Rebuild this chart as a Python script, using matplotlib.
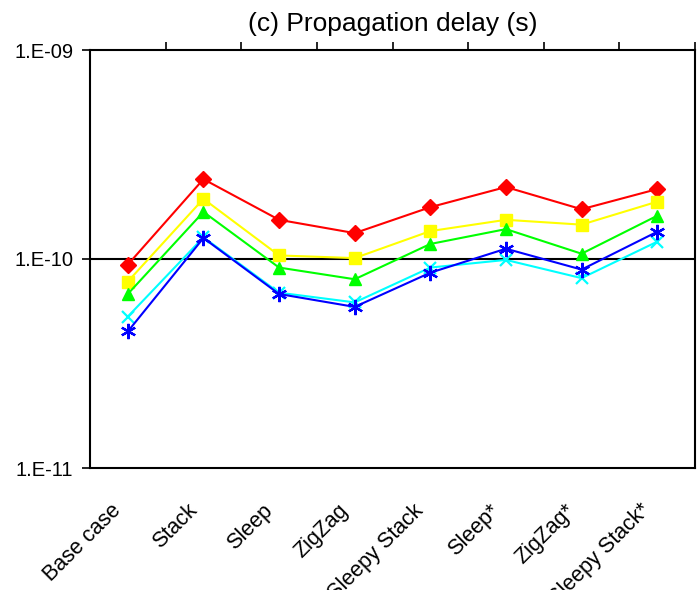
import matplotlib
matplotlib.use('Agg')
import matplotlib.pyplot as plt
import matplotlib.transforms as mtransforms
import numpy as np

plt.rcParams['font.family'] = ['Liberation Sans', 'DejaVu Sans']

# categories and series (propagation delay, seconds)
cases = ['Base case', 'Stack', 'Sleep', 'ZigZag', 'Sleepy Stack',
         'Sleep*', 'ZigZag*', 'Sleepy Stack*']
red_vals = [9.4e-11, 2.41e-10, 1.54e-10, 1.33e-10, 1.77e-10, 2.21e-10, 1.73e-10, 2.16e-10]
yellow_vals = [7.8e-11, 1.94e-10, 1.04e-10, 1.01e-10, 1.36e-10, 1.54e-10, 1.46e-10, 1.88e-10]
green_vals = [6.8e-11, 1.68e-10, 9.1e-11, 8.0e-11, 1.18e-10, 1.39e-10, 1.06e-10, 1.61e-10]
cyan_vals = [5.3e-11, 1.27e-10, 6.9e-11, 6.2e-11, 9.1e-11, 9.9e-11, 8.1e-11, 1.21e-10]
blue_vals = [4.5e-11, 1.26e-10, 6.8e-11, 5.9e-11, 8.6e-11, 1.12e-10, 8.9e-11, 1.35e-10]

y_ticks = [1e-11, 1e-10, 1e-9]
y_labels = ['1.E-11', '1.E-10', '1.E-09']

fig = plt.figure(figsize=(6.97, 5.90), dpi=100)
ax = fig.add_axes([90 / 697, 1 - 468 / 590, 605 / 697, 418 / 590])

x = np.arange(len(cases))
series = [
    (red_vals, '#FF0000', 'D', 8.5, 1.0),
    (yellow_vals, '#FFFF00', 's', 8, 1.0),
    (green_vals, '#00FF00', '^', 9, 1.0),
    (cyan_vals, '#00FFFF', 'x', 8.5, 1.6),
    (blue_vals, '#0000FF', (6, 2, 0), 11, 1.6),
]
for vals, col, mk, ms, mew in series:
    ax.plot(x, vals, color=col, lw=1.5, marker=mk, ms=ms,
            markerfacecolor=col, markeredgecolor=col, markeredgewidth=mew,
            clip_on=False, zorder=3)

ax.set_yscale('log')
ax.set_ylim(1e-11, 1e-9)
ax.set_xlim(-0.5, len(cases) - 0.5)
ax.axhline(1e-10, color='black', lw=1.5, zorder=1)

ax.yaxis.set_major_locator(matplotlib.ticker.FixedLocator(y_ticks))
ax.yaxis.set_major_formatter(matplotlib.ticker.FixedFormatter(y_labels))
ax.yaxis.set_minor_locator(matplotlib.ticker.NullLocator())
ax.tick_params(axis='y', direction='out', length=6, width=1.2, pad=6, labelsize=14.5)

# category ticks sit between categories on the top edge
ax.set_xticks(x)
ax.set_xticklabels(cases, rotation=45, ha='right', rotation_mode='anchor')
ax.tick_params(axis='x', which='major', bottom=False, top=False, length=0,
               pad=23, labelsize=15.5)
shift = mtransforms.ScaledTranslation(-17 / 100, 0, fig.dpi_scale_trans)
for lab in ax.get_xticklabels():
    lab.set_transform(lab.get_transform() + shift)
ax.set_xticks(np.arange(0.5, len(cases) + 0.5, 1.0), minor=True)
ax.tick_params(axis='x', which='minor', bottom=False, top=True, direction='out',
               length=6, width=1.2)

for s in ax.spines.values():
    s.set_linewidth(1.5)

ax.set_title('(c) Propagation delay (s)', fontsize=19, pad=14, y=1.0)

fig.savefig('out.png', dpi=100)
